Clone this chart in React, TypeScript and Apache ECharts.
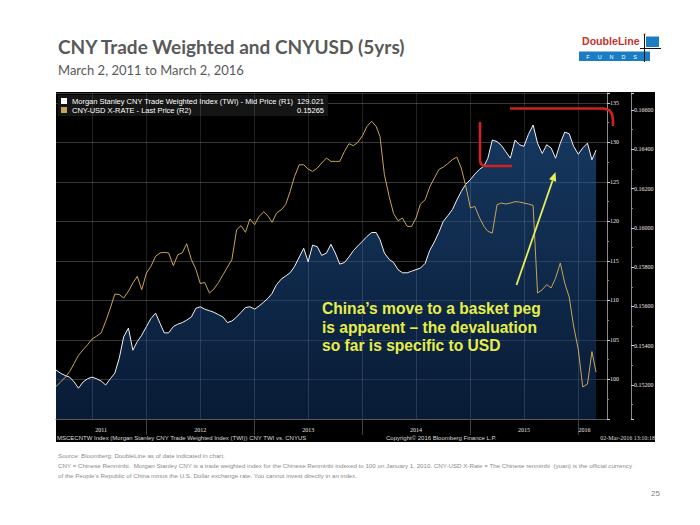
import React, { useEffect, useRef } from 'react';
import * as echarts from 'echarts';

// ---------- DATA ----------
// Half-monthly observation dates (1st and 16th of each month), Mar 2011 - Mar 2016
const dates: string[] = (() => {
  const out: string[] = [];
  for (let y = 2011; y <= 2016; y++) {
    for (let m = 1; m <= 12; m++) {
      if (y === 2011 && m < 3) continue;
      for (const d of ['01', '16']) {
        if (y === 2016 && (m > 3 || (m === 3 && d === '16'))) continue;
        out.push(`${y}-${String(m).padStart(2, '0')}-${d}`);
      }
    }
  }
  return out;
})();

const twiName = 'Morgan Stanley CNY Trade Weighted Index (TWI) - Mid Price (R1)';
const cnyName = 'CNY-USD X-RATE - Last Price (R2)';

const twiValues = [
  101.2, 100.8, 100.5, 100.3, 99.7, 98.9, 99.7, 100.1, 100.3, 100.1,
  99.8, 99.3, 100.1, 100.8, 102.7, 105.4, 106.5, 103.7, 104.8, 105.6,
  106.7, 107.7, 108.4, 107.1, 105.9, 105.9, 106.7, 107.0, 107.2, 107.5,
  107.9, 109.0, 109.2, 108.9, 108.7, 108.5, 108.2, 107.9, 107.2, 107.4,
  107.9, 108.5, 109.1, 109.2, 108.9, 109.3, 109.8, 110.3, 110.9, 112.0,
  112.7, 113.1, 113.5, 114.3, 115.5, 116.6, 114.9, 117.0, 116.8, 115.7,
  116.0, 117.1, 116.0, 114.6, 114.8, 115.5, 116.3, 116.9, 117.5, 118.1,
  118.6, 118.6, 117.7, 116.0, 115.2, 114.8, 113.9, 113.5, 113.5, 113.7,
  113.9, 114.1, 114.7, 116.3, 117.4, 118.6, 120.0, 120.7, 121.5, 122.7,
  123.8, 124.7, 125.3, 126.0, 126.6, 127.0, 128.0, 130.3, 130.1, 129.6,
  128.8, 128.0, 130.3, 129.7, 129.5, 131.0, 132.2, 129.9, 128.6, 129.7,
  129.3, 128.0, 129.9, 131.3, 131.1, 129.5, 128.5, 129.3, 129.9, 127.8,
  129.021,
];

const cnyValues = [
  0.15193, 0.15214, 0.15239, 0.15268, 0.15309, 0.15351, 0.1538, 0.15405, 0.15434, 0.15448,
  0.15465, 0.15524, 0.15592, 0.15663, 0.1566, 0.15643, 0.15677, 0.15719, 0.15753, 0.15685,
  0.1577, 0.15804, 0.15855, 0.15872, 0.15875, 0.15872, 0.15807, 0.15863, 0.15872, 0.15919,
  0.15838, 0.1579, 0.15716, 0.15722, 0.15668, 0.15688, 0.15722, 0.15761, 0.158, 0.15838,
  0.1599, 0.16011, 0.15977, 0.16045, 0.16016, 0.16058, 0.16082, 0.16058, 0.16028, 0.16075,
  0.16092, 0.16118, 0.16185, 0.16262, 0.16321, 0.16321, 0.16299, 0.16287, 0.16304, 0.1633,
  0.16355, 0.16338, 0.16338, 0.16338, 0.16389, 0.16428, 0.16418, 0.16435, 0.16469, 0.16516,
  0.16542, 0.16516, 0.16465, 0.1627, 0.1616, 0.16072, 0.16036, 0.1605, 0.16007, 0.16007,
  0.1605, 0.16121, 0.16143, 0.16207, 0.16253, 0.16296, 0.16309, 0.16326, 0.16347, 0.1636,
  0.16304, 0.16214, 0.16101, 0.16109, 0.1605, 0.16007, 0.15982, 0.15973, 0.16118, 0.16126,
  0.16121, 0.16126, 0.16133, 0.16131, 0.16126, 0.16121, 0.16114, 0.15668, 0.15685, 0.15711,
  0.15694, 0.15744, 0.15821, 0.15719, 0.15648, 0.155, 0.1538, 0.1519, 0.15205, 0.1537,
  0.15265,
];

const axisStart = '2011-03-01';
const axisEnd = '2016-04-07';
const yearStarts = ['2012-01-01', '2013-01-01', '2014-01-01', '2015-01-01', '2016-01-01'];
const halfYearLines = [
  '2011-07-01', '2012-01-01', '2012-07-01', '2013-01-01', '2013-07-01',
  '2014-01-01', '2014-07-01', '2015-01-01', '2015-07-01', '2016-01-01',
];
const yearLabelDates = ['2011-08-01', '2012-07-01', '2013-07-01', '2014-07-01', '2015-07-01', '2016-01-22'];

const titleText = 'CNY Trade Weighted and CNYUSD (5yrs)';
const subtitleText = 'March 2, 2011 to March 2, 2016';
const annotationText = 'China\u2019s move to a basket peg\nis apparent \u2013 the devaluation\nso far is specific to USD';
const sourceLines = [
  'Source: Bloomberg; DoubleLine as of date indicated in chart.',
  'CNY = Chinese Renminbi.  Morgan Stanley CNY is a trade weighted index for the Chinese Renminbi indexed to 100 on January 1, 2010. CNY-USD X-Rate = The Chinese renminbi  (yuan) is the official currency',
  'of the People\u2019s Republic of China minus the U.S. Dollar exchange rate. You cannot invest directly in an index.',
];
const footerLeft = 'MSCECNTW Index (Morgan Stanley CNY Trade Weighted Index (TWI)) CNY TWI vs. CNYUS';
const footerMid = 'Copyright\u00a9 2016 Bloomberg Finance L.P.';
const footerRight = '02-Mar-2016 13:10:18';
const fundsLetters = ['F', 'U', 'N', 'D', 'S'];

const ts = (s: string) => Date.UTC(+s.slice(0, 4), +s.slice(5, 7) - 1, +s.slice(8, 10));

// ---------- COMPONENT ----------
export default function App() {
  const ref = useRef<HTMLDivElement>(null);

  useEffect(() => {
    if (!ref.current) return;
    const chart = echarts.init(ref.current, undefined, { renderer: 'svg' });
    const twiLast = twiValues[twiValues.length - 1];
    const cnyLast = cnyValues[cnyValues.length - 1];
    const sans = 'Liberation Sans';
    const serif = 'Liberation Serif';

    const txt = (o: any) => ({
      type: 'text',
      z: 100,
      silent: true,
      x: o.x,
      y: o.y,
      style: {
        text: o.text,
        font: o.font,
        fill: o.fill,
        align: o.align || 'left',
        textAlign: o.align || 'left',
        verticalAlign: 'middle',
        textVerticalAlign: 'middle',
        lineHeight: o.lineHeight,
      },
    });

    const option: any = {
      animation: false,
      backgroundColor: '#ffffff',
      textStyle: { fontFamily: sans },
      grid: { left: 56, right: 93, top: 93, bottom: 106 },
      legend: {
        left: 58,
        top: 95,
        orient: 'vertical',
        icon: 'rect',
        itemWidth: 6,
        itemHeight: 6,
        itemGap: 1,
        padding: [2, 4, 2, 3],
        backgroundColor: '#151515',
        selectedMode: false,
        data: [
          { name: twiName, itemStyle: { color: '#ffffff' } },
          { name: cnyName, itemStyle: { color: '#c8a456' } },
        ],
        formatter: (name: string) => {
          const v = name === twiName ? twiLast.toFixed(3) : cnyLast.toFixed(5);
          return `{n|${name}}{v|${v}}`;
        },
        textStyle: {
          color: '#ffffff',
          fontSize: 7.5,
          fontFamily: sans,
          rich: {
            n: { width: 218, color: '#ffffff', fontSize: 7.5, fontFamily: sans },
            v: { width: 34, align: 'right', color: '#ffffff', fontSize: 7.5, fontFamily: sans },
          },
        },
      },
      xAxis: {
        type: 'value',
        min: ts(axisStart),
        max: ts(axisEnd),
        axisLine: { show: true, lineStyle: { color: '#5a5a5a' } },
        axisTick: { show: true, customValues: yearStarts.map(ts), length: 16, lineStyle: { color: '#444' } },
        axisLabel: {
          customValues: yearLabelDates.map(ts),
          formatter: (v: number) => String(new Date(v).getUTCFullYear()),
          color: '#e6e6e6',
          fontSize: 6,
          fontFamily: serif,
          margin: 8,
        },
        splitLine: { show: false },
      },
      yAxis: [
        {
          type: 'value',
          position: 'right',
          min: 95,
          max: 136.25,
          interval: 5,
          axisLine: { show: true, lineStyle: { color: '#8a8a8a' } },
          axisTick: { show: true, length: 3, lineStyle: { color: '#cfcfcf' } },
          minorTick: { show: true, splitNumber: 2, length: 2, lineStyle: { color: '#888' } },
          axisLabel: {
            color: '#e8e8e8',
            fontSize: 6,
            fontFamily: serif,
            margin: 3,
            formatter: (v: number) => (Math.abs(v / 5 - Math.round(v / 5)) < 1e-6 && v > 96 && v < 136 ? String(v) : ''),
          },
          splitLine: { show: true, lineStyle: { color: '#383838', width: 1 } },
        },
        {
          type: 'value',
          position: 'right',
          offset: 24,
          min: 0.15027,
          max: 0.16686,
          splitNumber: 8,
          axisLine: { show: true, lineStyle: { color: '#8a8a8a' } },
          axisTick: { show: true, length: 3, lineStyle: { color: '#cfcfcf' } },
          minorTick: { show: true, splitNumber: 2, length: 2, lineStyle: { color: '#888' } },
          axisLabel: {
            color: '#e8e8e8',
            fontSize: 6,
            fontFamily: serif,
            margin: 3,
            formatter: (v: number) => {
              const k = v / 0.002;
              return Math.abs(k - Math.round(k)) < 1e-6 && v > 0.1505 && v < 0.1668 ? v.toFixed(5) : '';
            },
          },
          splitLine: { show: false },
        },
      ],
      series: [
        {
          name: twiName,
          type: 'line',
          yAxisIndex: 0,
          data: dates.map((d, i) => [ts(d), twiValues[i]]),
          showSymbol: false,
          symbol: 'none',
          lineStyle: { color: '#f2f2f2', width: 1 },
          itemStyle: { color: '#ffffff' },
          areaStyle: {
            color: new echarts.graphic.LinearGradient(0, 0, 0, 1, [
              { offset: 0, color: 'rgba(38,98,168,0.80)' },
              { offset: 1, color: 'rgba(14,44,88,0.86)' },
            ]),
          },
          z: 2,
          markLine: {
            silent: true,
            symbol: ['none', 'none'],
            animation: false,
            data: [
              ...halfYearLines.map((d) => ({
                xAxis: ts(d),
                lineStyle: { color: 'rgba(255,255,255,0.13)', width: 1, type: 'solid' },
                label: { show: false },
              })),
              {
                yAxis: twiLast,
                lineStyle: { opacity: 0, width: 0 },
                label: {
                  show: true,
                  position: 'end',
                  formatter: twiLast.toFixed(3),
                  backgroundColor: '#dedede',
                  color: '#111',
                  fontSize: 6,
                  fontFamily: serif,
                  padding: [1, 1, 1, 1],
                  distance: 2,
                },
              },
            ],
          },
        },
        {
          name: cnyName,
          type: 'line',
          yAxisIndex: 1,
          data: dates.map((d, i) => [ts(d), cnyValues[i]]),
          showSymbol: false,
          symbol: 'none',
          lineStyle: { color: '#c8a456', width: 1 },
          itemStyle: { color: '#c8a456' },
          z: 3,
          markLine: {
            silent: true,
            symbol: ['none', 'none'],
            animation: false,
            data: [
              {
                yAxis: cnyLast,
                lineStyle: { opacity: 0, width: 0 },
                label: {
                  show: true,
                  position: 'end',
                  formatter: cnyLast.toFixed(5),
                  backgroundColor: '#e3d23c',
                  color: '#111',
                  fontSize: 6,
                  fontFamily: serif,
                  padding: [1, 1, 1, 1],
                  distance: 26,
                },
              },
            ],
          },
        },
      ],
      graphic: [
        { type: 'rect', z: -10, silent: true, shape: { x: 56, y: 92, width: 599, height: 350 }, style: { fill: '#000000' } },
        txt({ x: 58, y: 46, text: titleText, font: 'bold 19px Lato', fill: '#595959' }),
        txt({ x: 58, y: 70, text: subtitleText, font: '13px Lato', fill: '#595959' }),
        // logo
        txt({ x: 582, y: 41, text: 'DoubleLine', font: 'bold 10.6px "Liberation Sans"', fill: '#c4342d' }),
        txt({ x: 643, y: 34, text: '\u00ae', font: '4px "Liberation Sans"', fill: '#c4342d' }),
        { type: 'rect', z: 99, silent: true, shape: { x: 579, y: 51.5, width: 71, height: 9.5 }, style: { fill: '#1a7dc4' } },
        { type: 'rect', z: 99, silent: true, shape: { x: 646, y: 36.5, width: 13, height: 10.5 }, style: { fill: '#1a7dc4' } },
        { type: 'line', z: 101, silent: true, shape: { x1: 644.5, y1: 34, x2: 644.5, y2: 62 }, style: { stroke: '#111', lineWidth: 1 } },
        { type: 'line', z: 101, silent: true, shape: { x1: 640, y1: 48.5, x2: 661, y2: 48.5 }, style: { stroke: '#111', lineWidth: 1 } },
        ...fundsLetters.map((l, i) => ({
          ...txt({ x: 588 + i * 11.8, y: 56.5, text: l, font: '5.5px "Liberation Sans"', fill: '#ffffff', align: 'center' }),
          z: 102,
        })),
        // annotation text + arrow + red markers
        txt({ x: 322, y: 327, text: annotationText, font: 'bold 15.6px "Liberation Sans"', fill: '#e6ee48', lineHeight: 18.3 }),
        { type: 'line', z: 100, silent: true, shape: { x1: 516.5, y1: 285, x2: 552.6, y2: 180.5 }, style: { stroke: '#e6ee5a', lineWidth: 1.8 } },
        { type: 'polygon', z: 100, silent: true, shape: { points: [[555.5, 172], [556.1, 181.8], [549.1, 179.3]] }, style: { fill: '#e6ee5a' } },
        { type: 'polyline', z: 100, silent: true, shape: { points: [[480, 122], [480, 161], [481, 164], [484, 166], [512, 166]] }, style: { stroke: '#d42020', lineWidth: 2.6, fill: 'none' } },
        { type: 'polyline', z: 100, silent: true, shape: { points: [[510, 108.5], [604, 108.5], [609, 110], [612, 114], [613, 120], [613, 126]] }, style: { stroke: '#d42020', lineWidth: 2.6, fill: 'none' } },
        // Bloomberg footer
        txt({ x: 57, y: 438, text: footerLeft, font: '6px "Liberation Sans"', fill: '#dcdcdc' }),
        txt({ x: 386, y: 438, text: footerMid, font: '6px "Liberation Sans"', fill: '#dcdcdc' }),
        txt({ x: 655, y: 438, text: footerRight, font: '6px "Liberation Serif"', fill: '#dcdcdc', align: 'right' }),
        // source
        ...sourceLines.map((s, i) => txt({ x: 58, y: 455 + i * 10, text: s, font: '6.2px "Liberation Sans"', fill: '#8a8a8a' })),
        txt({ x: 660, y: 493, text: '25', font: '8px "Liberation Sans"', fill: '#7f7f7f', align: 'right' }),
      ],
    };

    chart.setOption(option);
    return () => chart.dispose();
  }, []);

  return <div ref={ref} style={{ position: 'fixed', left: 0, top: 0, width: 700, height: 525 }} />;
}
